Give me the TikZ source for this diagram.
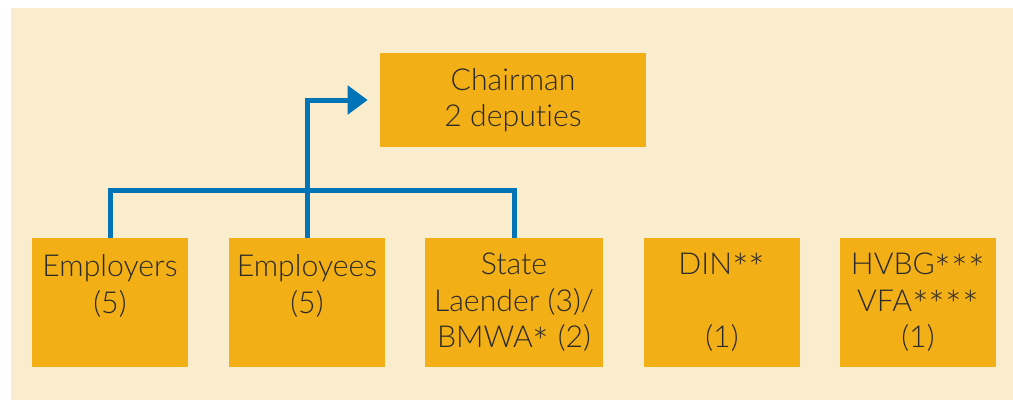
\documentclass[tikz,border=0pt]{standalone}
\usepackage{fontspec}
\setmainfont{Lato}[UprightFont=* Light, Ligatures=NoCommon]
\usepackage{xcolor}
\usetikzlibrary{arrows.meta}

\definecolor{paper}{HTML}{FAEDCE}
\definecolor{gold}{HTML}{F3AF16}
\definecolor{linkblue}{HTML}{0074B7}
\definecolor{ink}{HTML}{2A2A2A}

% larger asterisk, closer to cap height
\newcommand{\fnmark}{\raisebox{-0.55ex}[0pt][0pt]{\scalebox{1.3}{*}}}

\tikzset{
    member/.style={fill=gold, minimum width=39mm, minimum height=32.25mm,
        inner sep=0pt, align=center, text=ink,
        font=\fontsize{21.5}{26}\selectfont},
    link/.style={linkblue, line width=1.25mm},
}

\begin{document}
\begin{tikzpicture}[x=0.25mm, y=-0.25mm]
    % Frame and background
    \fill[white] (0,0) rectangle (1013,400);
    \useasboundingbox (0,0) rectangle (1013,400);
    \fill[paper] (11,8) rectangle (1013,400);

    % Top box
    \node[member, minimum width=66.5mm, minimum height=23.5mm] (chair) at (513,100)
        {Chairman\\2 deputies};

    % Member groups
    \node[member] (employers) at (110,302.5) {Employers\\(5)\\~};
    \node[member] (employees) at (307,302.5) {Employees\\(5)\\~};
    \node[member, minimum width=44.5mm] (state) at (514,302.5)
        {State\\Laender (3)/\\BMWA\fnmark{} (2)};
    \node[member] (din) at (722,302.5) {DIN\fnmark\fnmark\\~\\(1)};
    \node[member] (hvbg) at (918,302.5)
        {HVBG\fnmark\fnmark\fnmark\\VFA\fnmark\fnmark\fnmark\fnmark\\(1)};

    % Connectors
    \coordinate (bar) at (0,190);
    \draw[link] (employers.north) |- (bar -| state.north) -- (state.north);
    \draw[link, -{Triangle[length=5mm, width=7mm]}, shorten >=3mm]
        (employees.north) |- (chair.west);
\end{tikzpicture}
\end{document}
